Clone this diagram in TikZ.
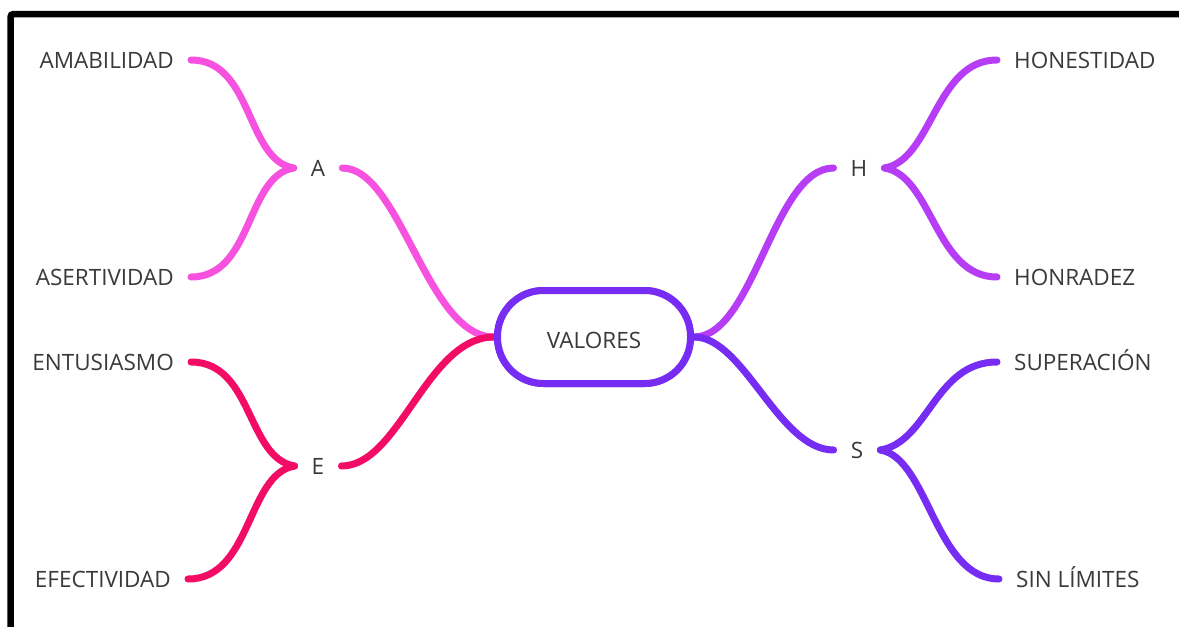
\documentclass[tikz,border=0pt]{standalone}
\usepackage{fontspec}
\setmainfont{Open Sans}
\begin{document}
\begin{tikzpicture}[x=1pt,y=-1pt,
  lbl/.style={font=\fontsize{22.5}{27}\selectfont, text=txtgray, inner xsep=17pt, inner ysep=0pt, text height=16pt, text depth=0pt},
  conn/.style={line width=7pt, line cap=round, line join=round},
  central/.style={draw=colS, line width=7pt, rounded corners=46pt, minimum width=193pt, minimum height=93pt, inner sep=0pt, fill=white},
  framestyle/.style={line width=6.5pt, draw=black, rounded corners=3pt}
]
\definecolor{txtgray}{HTML}{3A3A3A}
\definecolor{colA}{HTML}{F752DF}
\definecolor{colE}{HTML}{F20C66}
\definecolor{colH}{HTML}{B63DF5}
\definecolor{colS}{HTML}{772CF4}
\useasboundingbox (0,0) rectangle (1179,627);
\fill[white] (0,0) rectangle (1179,627);
\draw[framestyle] (10.5,640) -- (10.5,14) -- (1190,14);

% central node
\node[central] (V) at (594,337) {};
\node[lbl, inner xsep=0pt] (Vt) at (594,340) {VALORES};

% level 1
\node[lbl] (A) at (318,168) {A};
\node[lbl] (E) at (318,466) {E};
\node[lbl] (H) at (859,168) {H};
\node[lbl] (S) at (857,450) {S};

% leaves
\node[lbl, anchor=east] (amab) at (191,60) {AMABILIDAD};
\node[lbl, anchor=east] (aser) at (191,277) {ASERTIVIDAD};
\node[lbl, anchor=east] (entu) at (191,362) {ENTUSIASMO};
\node[lbl, anchor=east] (efec) at (188,579) {EFECTIVIDAD};
\node[lbl, anchor=west] (hone) at (997,60) {HONESTIDAD};
\node[lbl, anchor=west] (honr) at (997,277) {HONRADEZ};
\node[lbl, anchor=west] (supe) at (997,362) {SUPERACIÓN};
\node[lbl, anchor=west] (sinl) at (999,579) {SIN LÍMITES};

% connectors to central
\draw[conn, colA] (A.east) .. controls +(58,0) and +(-67,0) .. (V.west);
\draw[conn, colE] (E.east) .. controls +(58,0) and +(-67,0) .. (V.west);
\draw[conn, colH] (V.east) .. controls +(60,0) and +(-60,0) .. (H.west);
\draw[conn, colS] (V.east) .. controls +(50,0) and +(-55,0) .. (S.west);

% braces
\draw[conn, colA] (amab.east) .. controls +(62,0) and +(-48,-8) .. (A.west);
\draw[conn, colA] (aser.east) .. controls +(62,0) and +(-48,8) .. (A.west);
\draw[conn, colE] (entu.east) .. controls +(62,0) and +(-48,-8) .. (E.west);
\draw[conn, colE] (efec.east) .. controls +(64,0) and +(-48,8) .. (E.west);
\draw[conn, colH] (H.east) .. controls +(48,-8) and +(-62,0) .. (hone.west);
\draw[conn, colH] (H.east) .. controls +(48,8) and +(-62,0) .. (honr.west);
\draw[conn, colS] (S.east) .. controls +(48,-8) and +(-62,0) .. (supe.west);
\draw[conn, colS] (S.east) .. controls +(48,8) and +(-64,0) .. (sinl.west);

% redraw central node on top
\node[central] at (V.center) {};
\node[lbl, inner xsep=0pt] at (Vt.center) {VALORES};
\end{tikzpicture}
\end{document}
